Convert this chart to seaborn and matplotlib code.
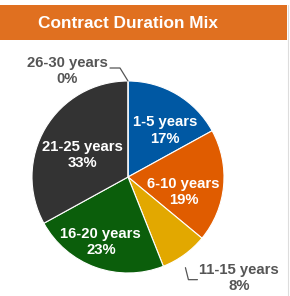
import numpy as np
import matplotlib
matplotlib.use("Agg")
import matplotlib.pyplot as plt
from matplotlib.patches import Rectangle
import seaborn as sns

categories = ["1-5 years", "6-10 years", "11-15 years", "16-20 years", "21-25 years", "26-30 years"]
values = [17, 19, 8, 23, 33, 0]
colors = ["#0058A3", "#E05C00", "#E2A800", "#0B5E0B", "#333333", "#999999"]
title = "Contract Duration Mix"

sns.set_theme(style="white")
plt.rcParams["font.family"] = ["Liberation Sans", "DejaVu Sans"]

W, H = 290, 296
fig = plt.figure(figsize=(W / 100, H / 100), dpi=100)
ax = fig.add_axes([0, 0, 1, 1])
ax.set_xlim(0, W)
ax.set_ylim(0, H)
ax.axis("off")

cx, cy, R = 128, H - 177, 96
wedges, _ = ax.pie(values, colors=colors, startangle=90, counterclock=False,
                   center=(cx, cy), radius=R,
                   wedgeprops=dict(edgecolor="white", linewidth=0.8))
ax.set_xlim(0, W)
ax.set_ylim(0, H)
ax.set_aspect("equal")

# header
ax.add_patch(Rectangle((0, H - 40), 287, 35, color="#E07020", lw=0, zorder=5))
ax.text(128, H - 23, title, color="white", fontsize=12.4, fontweight="bold",
        ha="center", va="center", zorder=6)
ax.plot([288, 288], [0, H - 5], color="#DDDDDD", lw=0.8)

# (radius fraction, angle offset in degrees) for inside labels
inside_pos = {0: (0.62, -8), 1: (0.6, -10), 3: (0.73, -3), 4: (0.53, 5)}
for i, w in enumerate(wedges):
    label = f"{categories[i]}\n{values[i]}%"
    if i in inside_pos:
        frac, dth = inside_pos[i]
        mid = np.deg2rad((w.theta1 + w.theta2) / 2 + dth)
        r = frac * R
        ax.text(cx + r * np.cos(mid), cy + r * np.sin(mid), label, color="white",
                fontsize=10.7, fontweight="bold", ha="center", va="center",
                linespacing=1.2, zorder=4)

# 11-15 outside label
w = wedges[2]
mid = np.deg2rad((w.theta1 + w.theta2) / 2)
sx, sy = cx + R * np.cos(mid) + 1, cy + R * np.sin(mid) - 13
ax.plot([sx, sx + 3, sx + 12], [sy, sy - 12, sy - 12], color="#555555", lw=0.9)
ax.text(239, H - 278, f"{categories[2]}\n{values[2]}%", color="#555555",
        fontsize=10.7, fontweight="bold", ha="center", va="center", linespacing=1.2)

# 26-30 outside label
sx, sy = cx, cy + R
ax.plot([sx, sx - 8, sx - 18], [sy, sy + 13, sy + 13], color="#555555", lw=0.9)
ax.text(67, H - 71, f"{categories[5]}\n{values[5]}%", color="#555555",
        fontsize=10.7, fontweight="bold", ha="center", va="center", linespacing=1.2)

fig.savefig("out.png", dpi=100, facecolor="white")
